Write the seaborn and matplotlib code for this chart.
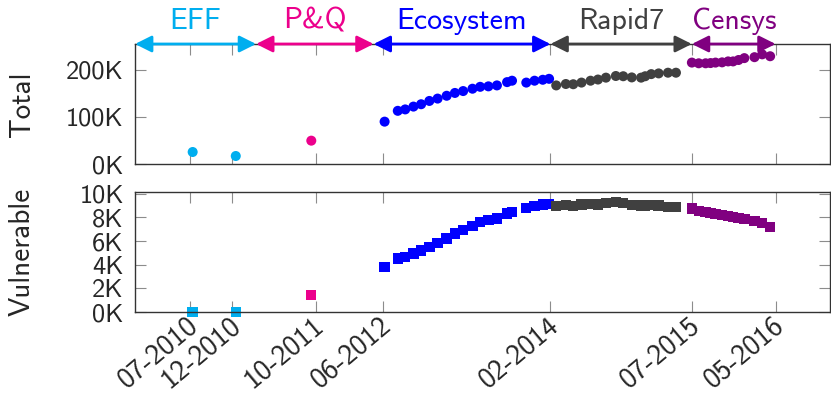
import seaborn as sns
import matplotlib.pyplot as plt
import matplotlib.dates as mdates
import matplotlib.transforms as mtransforms
import pandas as pd

# scan dates and host counts for each data source
eff_dates = ['2010-07-09', '2010-12-13']
eff_total = [25500, 17000]
eff_vuln = [0, 0]

pq_dates = ['2011-09-14']
pq_total = [49600]
pq_vuln = [1430]

eco_dates = ['2012-06-07', '2012-07-25', '2012-08-21', '2012-09-20', '2012-10-18',
             '2012-11-17', '2012-12-17', '2013-01-19', '2013-02-18', '2013-03-20',
             '2013-04-23', '2013-05-21', '2013-06-20', '2013-07-21', '2013-08-27',
             '2013-09-14', '2013-11-05', '2013-12-05', '2014-01-04', '2014-01-27']
eco_total = [90000, 113000, 116000, 122000, 127000, 134000, 139000, 145000, 151000, 155000,
             160000, 164000, 165000, 167000, 174000, 177000, 173000, 177000, 179000, 181000]
eco_vuln = [3820, 4530, 4670, 4950, 5200, 5490, 5850, 6220, 6640, 6920,
            7280, 7620, 7760, 7900, 8330, 8460, 8800, 8970, 9090, 9110]

r7_dates = ['2014-02-22', '2014-03-29', '2014-04-25', '2014-05-25', '2014-06-27',
            '2014-07-24', '2014-08-22', '2014-09-27', '2014-10-24', '2014-11-24',
            '2014-12-28', '2015-01-12', '2015-02-03', '2015-03-02', '2015-04-05',
            '2015-05-04']
r7_total = [167000, 170000, 169500, 173000, 177000, 179500, 183500, 187000, 186500, 184000,
            183500, 186500, 191000, 192500, 194000, 194000]
r7_vuln = [8970, 9050, 8970, 9080, 9120, 9100, 9220, 9300, 9200, 9050,
           9000, 9020, 9030, 9020, 8900, 8900]

censys_dates = ['2015-07-01', '2015-07-26', '2015-08-20', '2015-09-07', '2015-09-25',
                '2015-10-19', '2015-11-10', '2015-11-28', '2015-12-18', '2016-01-08',
                '2016-02-14', '2016-03-13', '2016-04-11']
censys_total = [215500, 214000, 214000, 214500, 215500, 216000, 218000, 218000, 221000,
                225000, 227000, 233000, 229000]
censys_vuln = [8770, 8550, 8450, 8380, 8300, 8220, 8100, 8030, 7950, 7850, 7700, 7550, 7200]

colors = {'EFF': '#00AEEF', 'P&Q': '#EC008C', 'Ecosystem': '#0000FF',
          'Rapid7': '#404040', 'Censys': '#800080'}

# periods covered by each source (arrows over the top panel)
periods = [('EFF', '2009-12-11', '2011-02-25'),
           ('P&Q', '2011-02-25', '2012-04-28'),
           ('Ecosystem', '2012-04-28', '2014-02-01'),
           ('Rapid7', '2014-02-01', '2015-07-01'),
           ('Censys', '2015-07-01', '2016-05-01')]

tick_dates = ['2010-07-01', '2010-12-01', '2011-10-01', '2012-06-01',
              '2014-02-01', '2015-07-01', '2016-05-01']
tick_labels = ['07-2010', '12-2010', '10-2011', '06-2012', '02-2014', '07-2015', '05-2016']

frames = []
for name, d, t, v in [('EFF', eff_dates, eff_total, eff_vuln),
                      ('P&Q', pq_dates, pq_total, pq_vuln),
                      ('Ecosystem', eco_dates, eco_total, eco_vuln),
                      ('Rapid7', r7_dates, r7_total, r7_vuln),
                      ('Censys', censys_dates, censys_total, censys_vuln)]:
    frames.append(pd.DataFrame({'date': pd.to_datetime(d), 'total': t,
                                'vulnerable': v, 'source': name}))
df = pd.concat(frames, ignore_index=True)

sns.set_style('ticks')
plt.rcParams['font.family'] = ['cmss10', 'DejaVu Sans']
plt.rcParams['axes.unicode_minus'] = False

fig = plt.figure(figsize=(8.31, 3.95), dpi=100)
ax1 = fig.add_axes([135 / 831, 1 - 164 / 395, 695 / 831, 120 / 395])
ax2 = fig.add_axes([135 / 831, 1 - 312 / 395, 695 / 831, 120 / 395], sharex=ax1)

sns.scatterplot(data=df, x='date', y='total', hue='source', palette=colors, marker='o',
                s=52, linewidth=0, legend=False, ax=ax1, clip_on=False)
sns.scatterplot(data=df, x='date', y='vulnerable', hue='source', palette=colors, marker='s',
                s=56, linewidth=0, legend=False, ax=ax2, clip_on=False)

ax1.set_xlim(pd.Timestamp('2009-12-11'), pd.Timestamp('2016-11-15'))
ax1.set_ylim(0, 255000)
ax2.set_ylim(0, 10150)

ax1.set_yticks([0, 100000, 200000])
ax1.set_yticklabels(['0K', '100K', '200K'])
ax2.set_yticks([0, 2000, 4000, 6000, 8000, 10000])
ax2.set_yticklabels(['0K', '2K', '4K', '6K', '8K', '10K'])

ax2.set_xticks(pd.to_datetime(tick_dates))
ax2.set_xticklabels(tick_labels, rotation=40, ha='right', va='top', rotation_mode='anchor')
ax1.tick_params(labelbottom=False)

for ax, label in ((ax1, 'Total'), (ax2, 'Vulnerable')):
    ax.tick_params(direction='in', length=8, width=0.8, color='#8c8c8c',
                   top=True, right=True, labelsize=19, pad=8)
    for sp in ax.spines.values():
        sp.set_color('#333333')
        sp.set_linewidth(1.0)
    ax.set_xlabel('')
    ax.set_ylabel(label, fontsize=21)
    ax.yaxis.set_label_coords(-0.143, 0.5)
ax2.tick_params(axis='x', pad=0, labelsize=20.5)
# nudge the rotated date labels a little to the left
shift = mtransforms.ScaledTranslation(-2.5 / 72, 0, fig.dpi_scale_trans)
for lab in ax2.get_xticklabels():
    lab.set_transform(lab.get_transform() + shift)

trans = ax1.get_xaxis_transform()
for name, start, end in periods:
    x0 = mdates.date2num(pd.Timestamp(start))
    x1 = mdates.date2num(pd.Timestamp(end))
    ax1.annotate('', xy=(x1, 1), xytext=(x0, 1), xycoords=trans, textcoords=trans,
                 annotation_clip=False,
                 arrowprops=dict(arrowstyle='<|-|>,head_length=0.5,head_width=0.25',
                                 mutation_scale=20, color=colors[name], lw=2,
                                 shrinkA=0, shrinkB=0))
    ax1.text((x0 + x1) / 2, 1.19, name, transform=trans, ha='center', va='center',
             color=colors[name], fontsize=21.5)

fig.savefig('out.png', dpi=100)
